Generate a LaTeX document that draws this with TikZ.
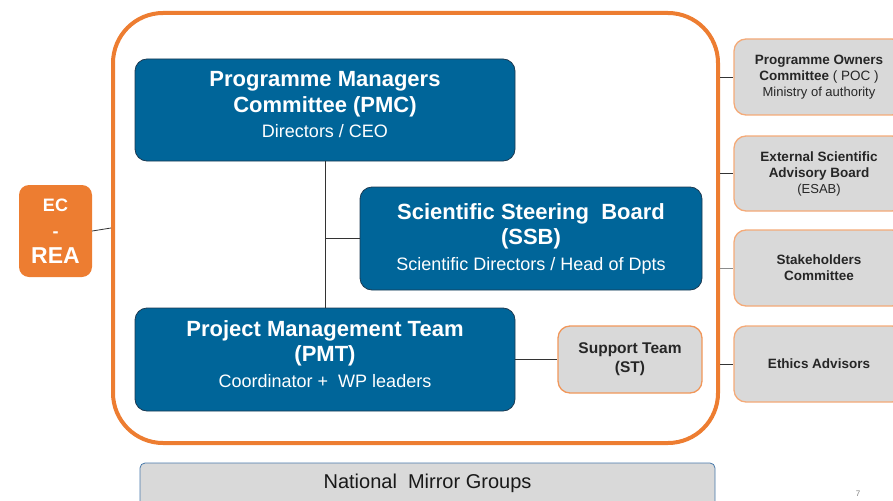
\documentclass[tikz,border=0pt]{standalone}
\usepackage{fontspec}
\setmainfont{Liberation Sans}
\definecolor{pmblue}{RGB}{0,101,153}
\definecolor{boxedge}{RGB}{28,58,82}
\definecolor{pmorange}{RGB}{237,125,49}
\definecolor{lightorange}{RGB}{244,170,120}
\definecolor{pmgrey}{RGB}{217,217,217}
\definecolor{edgeblue}{RGB}{70,120,170}
\tikzset{
  bluebox/.style={draw=boxedge,fill=pmblue,text=white,rounded corners=12pt,line width=0.8pt,
    align=center,inner sep=0pt,font=\fontsize{22}{25.5}\selectfont\bfseries},
  greybox/.style={draw=lightorange,fill=pmgrey,text=black!85,rounded corners=12pt,line width=1.3pt,
    align=center,inner sep=0pt,font=\fontsize{13.5}{16}\selectfont\bfseries},
  link/.style={draw=black!80,line width=0.8pt}
}

\begin{document}
\begin{tikzpicture}[x=1pt,y=-1pt]
    \useasboundingbox (0,0) rectangle (893,500);
    \clip (0,0) rectangle (893,500);
    % big frame
    \node[draw=pmorange,line width=4pt,rounded corners=50pt,minimum width=605pt,minimum height=430pt] (frame) at (415.5,228) {};
    % inside the frame
    \node[bluebox,minimum width=380pt,minimum height=102pt] (pmc) at (325,110)
      {Programme Managers\\Committee (PMC)\\{\fontsize{18}{20}\selectfont\mdseries Directors / CEO\rule[-11pt]{0pt}{0pt}}};
    \node[bluebox,minimum width=342pt,minimum height=103pt] (ssb) at (531,238.5)
      {Scientific Steering\ \ Board\\(SSB)\\{\fontsize{18}{20}\selectfont\mdseries Scientific Directors / Head of Dpts}};
    \node[bluebox,minimum width=380pt,minimum height=103pt] (pmt) at (325,359.5)
      {Project Management Team\\(PMT)\\{\fontsize{18}{20}\selectfont\mdseries Coordinator +\ \ WP leaders\rule[-11pt]{0pt}{0pt}}};
    \node[greybox,draw=pmorange!80,font=\fontsize{15.5}{19}\selectfont\bfseries,minimum width=144pt,minimum height=67pt] (st) at (630,359.5)
      {Support Team\\(ST)};
    \draw[link] (pmc.south) -- (pmt.north);
    \draw[link] (ssb.west) -- (ssb.west -| pmc.south);
    \draw[link] (pmt.east) -- (st.west);
    % left
    \node[fill=pmorange,text=white,rounded corners=10pt,minimum width=73pt,minimum height=92pt,align=center,
      inner sep=0pt,font=\fontsize{18}{26}\selectfont\bfseries] (ec) at (55.5,231)
      {EC\\-\\{\fontsize{23}{26}\selectfont REA}};
    \draw[link] (ec.east) -- (frame.west);
    % right
    \node[greybox,minimum width=170pt,minimum height=76pt] (poc) at (819,77)
      {Programme Owners\\Committee {\mdseries ( POC )}\\{\mdseries\fontsize{13}{16}\selectfont Ministry of authority}};
    \node[greybox,minimum width=170pt,minimum height=75pt] (esab) at (819,173.5)
      {External Scientific\\Advisory Board\\{\mdseries\fontsize{13}{16}\selectfont (ESAB)}};
    \node[greybox,minimum width=170pt,minimum height=76pt] (stake) at (819,268)
      {Stakeholders\\Committee};
    \node[greybox,minimum width=170pt,minimum height=76pt] (ethics) at (819,364)
      {Ethics Advisors};
    \draw[link] (frame.east |- poc.west) -- (poc.west);
    \draw[link] (frame.east |- esab.west) -- (esab.west);
    \draw[link,draw=black!45] (frame.east |- stake.west) -- (stake.west);
    \draw[link] (frame.east |- ethics.west) -- (ethics.west);
    % bottom
    \node[draw=edgeblue,fill=pmgrey,rounded corners=5pt,line width=0.8pt,minimum width=575pt,minimum height=44pt] (nmg) at (427.5,485) {};
    \node[font=\fontsize{20}{24}\selectfont,text=black!90] (nmgtext) at (427.5,483) {National\ \ Mirror Groups};
    \node[font=\fontsize{8}{9}\selectfont,text=black!50] (pagenum) at (858,494) {7};
\end{tikzpicture}
\end{document}
